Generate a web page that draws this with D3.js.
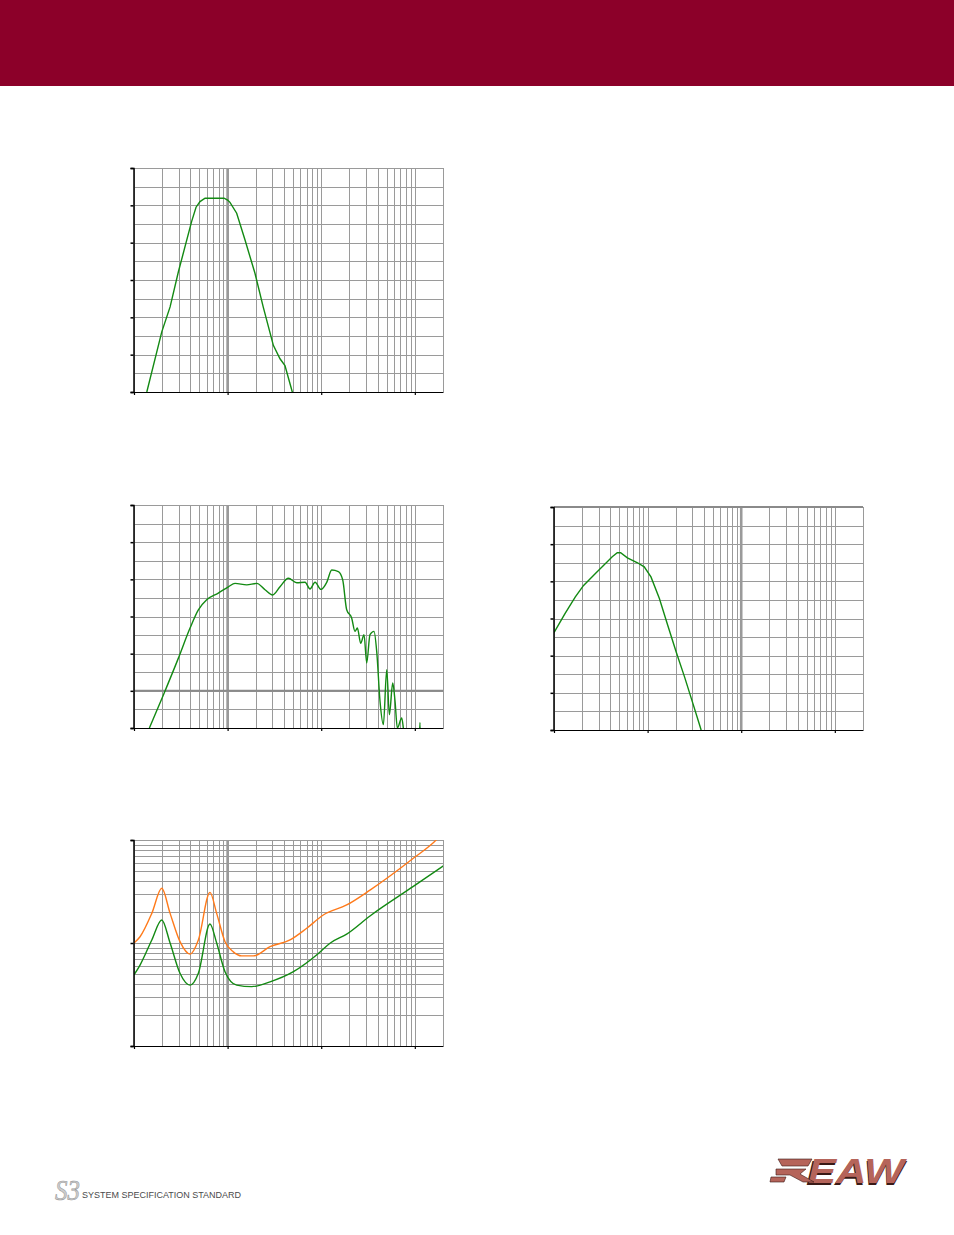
<!DOCTYPE html>
<html><head><meta charset="utf-8">
<script src="https://cdn.jsdelivr.net/npm/d3@7"></script>
<style>body{margin:0;background:#fff}svg{display:block}</style>
</head><body>
<svg id="c" width="954" height="1235"></svg>
<script>
// ---- data ----
const freqDomain = [10, 20000];
const decadeTicks = [10, 100, 1000, 10000];

// chart 1 (top) : processed response
const procFreq  = [13.7, 19.8, 24.3, 29.8, 41.3, 46, 50.7, 57.4, 91.6, 100, 106, 125, 153.5, 196, 240, 308, 363, 410, 491, 520];
const procLevel = [0, 16.1, 22.8, 32.2, 45.7, 49.5, 51.0, 51.9, 51.9, 51.4, 50.8, 47.9, 40.7, 31.8, 22.8, 12.5, 8.9, 7.1, 0, -4];

// chart 2 (middle left) : unprocessed response
const rawFreq  = [14.6, 20.6, 29.8, 39.7, 48.7, 59.8, 79.6, 102, 120, 160, 205, 251, 303, 363, 446, 547, 672, 759, 859, 995, 1145, 1295, 1524, 1696, 1871, 2115, 2296, 2432, 2642, 2866, 3062, 3320, 3664, 3917, 4248, 4613, 5012, 5346, 5808, 6148, 6506, 7249, 7534, 8000, 11000, 11350, 11600];
const rawLevel = [0, 8.9, 18.8, 26.9, 31.8, 34.5, 36.3, 38.0, 38.9, 38.5, 38.9, 37.2, 35.8, 38.0, 40.3, 39.1, 39.2, 37.4, 39.2, 37.3, 39.2, 42.5, 42.1, 39.9, 31.8, 29.6, 26.0, 26.9, 22.8, 25.1, 17.5, 25.1, 26.0, 20.6, 7.2, 0.9, 15.7, 3.6, 12.1, 7.2, 0, 2.7, 0, -8, -8, 1.5, -8];

// chart 3 (middle right) : low frequency response
const lfFreq  = [10, 13.1, 16.9, 20.7, 27.7, 35.5, 41.9, 47.4, 51.5, 60.8, 78, 92, 108.6, 133.6, 164, 202, 248, 305, 369, 400];
const lfLevel = [26.2, 31.3, 35.8, 38.9, 42.1, 44.8, 46.6, 47.7, 47.7, 46.3, 45.0, 43.9, 41.2, 35.4, 28.2, 21.0, 14.3, 7.1, 0.4, -3];

// chart 4 (bottom) : impedance, two curves
const impFreq   = [10, 11.6, 15.5, 19.8, 24.3, 31, 39.7, 48.7, 64.8, 76.4, 93.8, 115, 141, 188, 284, 464, 700, 1052, 1871, 3320, 9640, 17100, 20000];
const impHigh   = [10, 11.5, 19.4, 34, 19.4, 10.3, 7.8, 10.7, 31, 19.4, 10.3, 8.2, 7.5, 7.5, 9.2, 10.7, 13.9, 18.7, 23.4, 32.6, 66.4, 101, 118];
const impLowF   = [10, 11.6, 15.5, 19.8, 24.3, 31, 39.7, 48.7, 64.8, 76.4, 93.8, 125, 181, 284, 505, 933, 1241, 1871, 3320, 9640, 20200];
const impLow    = [4.9, 6.1, 10.7, 16.7, 10, 5.08, 3.9, 5.08, 15.3, 10, 5.27, 3.9, 3.77, 4.2, 5.27, 7.9, 9.95, 12.2, 18.3, 35.4, 56];

const levelDomain = [0, 60];
const levelGrid = d3.range(0, 61, 5);
const levelTicks = d3.range(0, 61, 10);
const impDomain = [1, 100];
const impTicks = [1, 10, 100];

// ---- drawing ----
const svg = d3.select('#c');
svg.append('rect').attr('x',0).attr('y',0).attr('width',954).attr('height',86).attr('fill','#8c0029');

const GREEN = '#138a13', ORANGE = '#ff7a1a', GRID = '#9a9a9a';

function chart(cfg) {
  const g = svg.append('g').attr('transform', `translate(${cfg.left},${cfg.top})`);
  const x = d3.scaleLog().domain(freqDomain).range([0, cfg.w]);
  const y = (cfg.log ? d3.scaleLog() : d3.scaleLinear()).domain(cfg.yDomain).range([cfg.h, 0]);
  const id = 'clip' + cfg.id;
  g.append('clipPath').attr('id', id).append('rect').attr('width', cfg.w).attr('height', cfg.h);

  const xg = x.ticks();
  g.selectAll('.vg').data(xg).join('line')
    .attr('x1', d => Math.round(x(d)) + 0.5).attr('x2', d => Math.round(x(d)) + 0.5)
    .attr('y1', 0).attr('y2', cfg.h).attr('stroke', GRID).attr('stroke-width', 1);
  const yg = cfg.log ? y.ticks() : levelGrid;
  g.selectAll('.hg').data(yg).join('line')
    .attr('x1', 0).attr('x2', cfg.w)
    .attr('y1', d => Math.round(y(d)) + 0.5).attr('y2', d => Math.round(y(d)) + 0.5)
    .attr('stroke', GRID).attr('stroke-width', 1);
  (cfg.thickX || []).forEach(v => g.append('line')
    .attr('x1', x(v)).attr('x2', x(v)).attr('y1', 0).attr('y2', cfg.h)
    .attr('stroke', GRID).attr('stroke-width', 2.6));
  (cfg.thickY || []).forEach(v => g.append('line')
    .attr('x1', 0).attr('x2', cfg.w).attr('y1', y(v)).attr('y2', y(v))
    .attr('stroke', '#8a8a8a').attr('stroke-width', 2));

  const pg = g.append('g').attr('clip-path', `url(#${id})`);
  cfg.series.forEach(s => {
    const line = d3.line().x(d => x(d[0])).y(d => y(d[1])).curve(s.curve || d3.curveMonotoneX);
    pg.append('path').datum(d3.zip(s.f, s.v)).attr('d', line)
      .attr('fill', 'none').attr('stroke', s.color).attr('stroke-width', 1.4);
  });

  // axes
  const ya = cfg.log ? d3.axisLeft(y).tickValues(impTicks) : d3.axisLeft(y).tickValues(levelTicks);
  g.append('g').attr('transform','translate(-0.5,0)').call(ya.tickSize(3).tickFormat(''))
    .call(a => a.selectAll('path,line').attr('stroke','#000').attr('stroke-width',1.5));
  g.append('g').attr('transform',`translate(0,${cfg.h})`)
    .call(d3.axisBottom(x).tickValues(decadeTicks).tickSize(3).tickSizeOuter(0).tickFormat(''))
    .call(a => a.selectAll('path,line').attr('stroke','#000').attr('stroke-width',1.2));
}

chart({id:1, left:134, top:168, w:309, h:224, yDomain:levelDomain, thickX:[100],
  series:[{f:procFreq, v:procLevel, color:GREEN, curve:d3.curveLinear}]});
chart({id:2, left:134, top:505, w:309, h:223, yDomain:levelDomain, thickX:[100], thickY:[10],
  series:[{f:rawFreq, v:rawLevel, color:GREEN}]});
chart({id:3, left:554, top:507, w:309, h:223, yDomain:levelDomain, thickX:[1000], thickY:[60],
  series:[{f:lfFreq, v:lfLevel, color:GREEN, curve:d3.curveLinear}]});
chart({id:4, left:134, top:840, w:309, h:206, log:true, yDomain:impDomain, thickX:[100],
  series:[{f:impFreq, v:impHigh, color:ORANGE},{f:impLowF, v:impLow, color:GREEN}]});

// ---- footer logos ----
svg.append('text').attr('x', 55).attr('y', 1200).text('S3')
  .attr('font-family','Liberation Serif').attr('font-size', 30).attr('font-style','italic')
  .attr('fill','#cdcdcd').attr('stroke','#9a9a9a').attr('stroke-width',0.6)
  .attr('textLength', 25).attr('lengthAdjust','spacingAndGlyphs');
svg.append('text').attr('x', 82).attr('y', 1198).text('SYSTEM SPECIFICATION STANDARD')
  .attr('font-family','Liberation Sans').attr('font-size', 8.5).attr('fill','#4a4a4a')
  .attr('textLength', 159).attr('lengthAdjust','spacingAndGlyphs');

const eaw = svg.append('g');
eaw.append('text').attr('x', 806).attr('y', 1185).text('EAW')
  .attr('font-family','Liberation Sans').attr('font-weight','bold').attr('font-style','italic')
  .attr('font-size', 35).attr('fill','#3a1a16').attr('textLength', 98).attr('lengthAdjust','spacingAndGlyphs');
eaw.append('text').attr('x', 808).attr('y', 1183).text('EAW')
  .attr('font-family','Liberation Sans').attr('font-weight','bold').attr('font-style','italic')
  .attr('font-size', 35).attr('fill','#b5645a').attr('textLength', 96).attr('lengthAdjust','spacingAndGlyphs');
// stylised mark to the left of the letters
eaw.append('path').attr('d','M778,1159 L812,1159 L808,1166 L782,1166 Z M776,1169 L806,1169 L800,1174 L814,1182 L803,1182 L790,1175 L776,1175 Z M771,1177 L786,1177 L784,1182 L770,1182 Z')
  .attr('fill','#b5645a').attr('stroke','#3a1a16').attr('stroke-width',0.6);
</script>
</body></html>
